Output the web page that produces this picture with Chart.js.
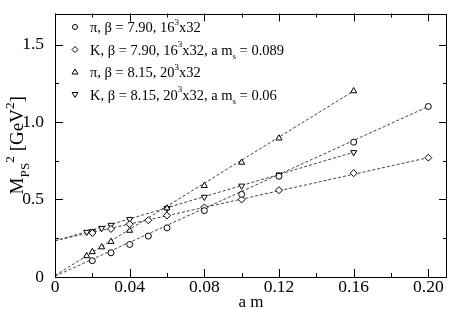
<!DOCTYPE html>
<html>
<head>
<meta charset="utf-8">
<script src="https://cdn.jsdelivr.net/npm/chart.js@4/dist/chart.umd.min.js"></script>
<style>
  html, body { margin: 0; padding: 0; background: #fff; }
  #wrap { width: 452px; height: 310px; }
</style>
</head>
<body>
<div id="wrap"><canvas id="chartMps"></canvas></div>
<script>
// pi, beta = 7.90, 16^3x32
const piX790 = [0.02, 0.03, 0.04, 0.05, 0.06, 0.08, 0.10, 0.12, 0.16, 0.20];
const piY790 = [0.105, 0.156, 0.21, 0.264, 0.317, 0.428, 0.533, 0.65, 0.87, 1.10];
// K, beta = 7.90, a ms = 0.089
const kX790 = [0.02, 0.03, 0.04, 0.05, 0.06, 0.08, 0.10, 0.12, 0.16, 0.20];
const kY790 = [0.284, 0.31, 0.341, 0.366, 0.397, 0.449, 0.50, 0.56, 0.67, 0.77];
// pi, beta = 8.15, 20^3x32
const piX815 = [0.017, 0.02, 0.025, 0.03, 0.04, 0.06, 0.08, 0.10, 0.12, 0.16];
const piY815 = [0.136, 0.162, 0.193, 0.228, 0.30, 0.444, 0.589, 0.739, 0.895, 1.20];
// K, beta = 8.15, a ms = 0.06
const kX815 = [0.017, 0.02, 0.025, 0.03, 0.04, 0.06, 0.08, 0.10, 0.12, 0.16];
const kY815 = [0.29, 0.294, 0.315, 0.335, 0.372, 0.444, 0.516, 0.588, 0.66, 0.804];

// fit lines (end points)
const fitPi790 = { x: [0, 0.20], y: [0.005, 1.10] };
const fitK790 = { x: [0, 0.20], y: [0.235, 0.77] };
const fitPi815 = { x: [0, 0.16], y: [0.01, 1.20] };
const fitK815 = { x: [0, 0.16], y: [0.232, 0.805] };

const xTicks = [0, 0.04, 0.08, 0.12, 0.16, 0.20];
const yTicks = [0, 0.5, 1.0, 1.5];

const legendRows = [
  { style: "circle", text: [["π, β = 7.90, 16"], ["3", "sup"], ["x32"]] },
  { style: "diamond", text: [["K, β = 7.90, 16"], ["3", "sup"], ["x32, a m"], ["s", "sub"], [" = 0.089"]] },
  { style: "triangle", text: [["π, β = 8.15, 20"], ["3", "sup"], ["x32"]] },
  { style: "down", text: [["K, β = 8.15, 20"], ["3", "sup"], ["x32, a m"], ["s", "sub"], [" = 0.06"]] },
];
const yTitle = [["M"], ["PS", "sub"], ["2", "sup"], [" [GeV"], ["2", "sup"], ["]"]];

const FONT = "'Liberation Serif', 'DejaVu Serif', serif";

function pts(xs, ys) {
  return xs.map((x, i) => ({ x: x, y: ys[i] }));
}

function markerSet(data, style) {
  return {
    data: data,
    showLine: false,
    pointStyle: style === "diamond" ? "rectRot" : (style === "down" ? "triangle" : style),
    rotation: style === "down" ? 180 : 0,
    pointRadius: style === "circle" ? 3 : 3.5,
    pointBackgroundColor: "#fff",
    pointBorderColor: "#000",
    pointBorderWidth: 1,
    order: 0,
  };
}

function fitSet(fit) {
  return {
    data: pts(fit.x, fit.y),
    showLine: true,
    borderColor: "#444",
    borderWidth: 1,
    borderDash: [3, 2],
    pointRadius: 0,
    fill: false,
    order: 1,
  };
}

function drawRich(ctx, segs, x, y, size, ratio) {
  let cx = x;
  segs.forEach((s) => {
    const kind = s[1];
    let fs = size, dy = 0;
    if (kind === "sup") { fs = size * ratio; dy = -size * 0.5; }
    if (kind === "sub") { fs = size * ratio; dy = size * 0.3; }
    ctx.font = fs + "px " + FONT;
    ctx.fillText(s[0], cx, y + dy);
    cx += ctx.measureText(s[0]).width;
  });
  return cx - x;
}

function richWidth(ctx, segs, size, ratio) {
  let w = 0;
  segs.forEach((s) => {
    const fs = s[1] ? size * ratio : size;
    ctx.font = fs + "px " + FONT;
    w += ctx.measureText(s[0]).width;
  });
  return w;
}

function drawMarker(ctx, style, x, y) {
  ctx.save();
  ctx.strokeStyle = "#000";
  ctx.fillStyle = "#fff";
  ctx.lineWidth = 1;
  ctx.beginPath();
  if (style === "circle") {
    ctx.arc(x, y, 2.5, 0, Math.PI * 2);
  } else if (style === "diamond") {
    ctx.moveTo(x, y - 3); ctx.lineTo(x + 3, y); ctx.lineTo(x, y + 3); ctx.lineTo(x - 3, y); ctx.closePath();
  } else if (style === "triangle") {
    ctx.moveTo(x, y - 3); ctx.lineTo(x + 3, y + 2); ctx.lineTo(x - 3, y + 2); ctx.closePath();
  } else {
    ctx.moveTo(x, y + 3); ctx.lineTo(x + 3, y - 2); ctx.lineTo(x - 3, y - 2); ctx.closePath();
  }
  ctx.fill();
  ctx.stroke();
  ctx.restore();
}

const framePlugin = {
  id: "frame",
  afterDraw(chart) {
    const ctx = chart.ctx;
    const a = chart.chartArea;
    const xs = chart.scales.x, ys = chart.scales.y;
    ctx.save();
    ctx.strokeStyle = "#000";
    ctx.lineWidth = 1;
    ctx.strokeRect(Math.round(a.left) + 0.5, Math.round(a.top) + 0.5,
      Math.round(a.right - a.left) - 1, Math.round(a.bottom - a.top) - 1);

    // inward ticks on all four sides
    ctx.beginPath();
    for (let v = 0; v <= 0.21 + 1e-9; v += 0.02) {
      const px = Math.round(xs.getPixelForValue(v)) + 0.5;
      const major = Math.abs(v / 0.04 - Math.round(v / 0.04)) < 1e-6;
      const len = major ? 8 : 4;
      ctx.moveTo(px, a.bottom); ctx.lineTo(px, a.bottom - len);
      ctx.moveTo(px, a.top); ctx.lineTo(px, a.top + len);
    }
    for (let v = 0; v <= 1.7 + 1e-9; v += 0.25) {
      const py = Math.round(ys.getPixelForValue(v)) + 0.5;
      const major = Math.abs(v / 0.5 - Math.round(v / 0.5)) < 1e-6;
      const len = major ? 8 : 4;
      ctx.moveTo(a.left, py); ctx.lineTo(a.left + len, py);
      ctx.moveTo(a.right, py); ctx.lineTo(a.right - len, py);
    }
    ctx.stroke();

    // legend
    ctx.fillStyle = "#000";
    ctx.textBaseline = "alphabetic";
    ctx.textAlign = "left";
    legendRows.forEach((row, i) => {
      const cy = 27 + i * 22.5;
      drawMarker(ctx, row.style, 75, cy);
      drawRich(ctx, row.text, 90, cy + 5, 14.5, 0.62);
    });

    // axis titles
    ctx.font = "17px " + FONT;
    ctx.textAlign = "center";
    ctx.fillText("a m", (a.left + a.right) / 2, 307);

    ctx.textAlign = "left";
    const w = richWidth(ctx, yTitle, 19, 0.7);
    ctx.translate(23, (a.top + a.bottom) / 2);
    ctx.rotate(-Math.PI / 2);
    drawRich(ctx, yTitle, -w / 2, 0, 19, 0.7);
    ctx.restore();
  },
};

new Chart("chartMps", {
  type: "scatter",
  data: {
    datasets: [
      markerSet(pts(piX790, piY790), "circle"),
      markerSet(pts(kX790, kY790), "diamond"),
      markerSet(pts(piX815, piY815), "triangle"),
      markerSet(pts(kX815, kY815), "down"),
      fitSet(fitPi790),
      fitSet(fitK790),
      fitSet(fitPi815),
      fitSet(fitK815),
    ],
  },
  options: {
    animation: false,
    responsive: true,
    maintainAspectRatio: false,
    layout: { padding: { top: 2, right: 2, left: 0, bottom: 0 } },
    plugins: {
      legend: { display: false },
      tooltip: { enabled: false },
    },
    scales: {
      x: {
        type: "linear",
        min: 0,
        max: 0.21,
        afterFit(scale) { scale.height = 33; },
        afterBuildTicks(scale) { scale.ticks = xTicks.map((v) => ({ value: v })); },
        grid: { display: false },
        border: { display: false },
        ticks: {
          padding: -6,
          color: "#000",
          font: { family: FONT, size: 17.5, lineHeight: 1 },
          maxRotation: 0,
          callback: (v) => (v === 0 ? "0" : v.toFixed(2)),
        },
      },
      y: {
        type: "linear",
        min: 0,
        max: 1.7,
        afterFit(scale) { scale.width = 55; },
        afterBuildTicks(scale) { scale.ticks = yTicks.map((v) => ({ value: v })); },
        grid: { display: false },
        border: { display: false },
        ticks: {
          padding: 3,
          color: "#000",
          font: { family: FONT, size: 17.5 },
          callback: (v) => (v === 0 ? "0" : v.toFixed(1)),
        },
      },
    },
  },
  plugins: [framePlugin],
});
</script>
</body>
</html>
